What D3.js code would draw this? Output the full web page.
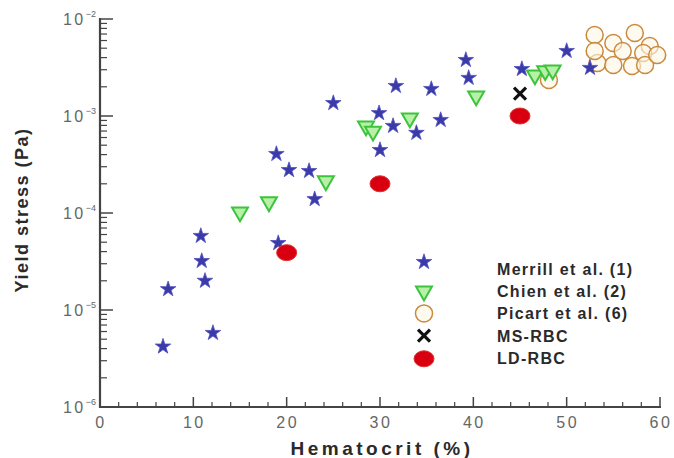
<!DOCTYPE html>
<html lang="en">
    <head>
        <meta charset="utf-8">
        <title>Yield stress vs hematocrit</title>
        <script src="https://d3js.org/d3.v7.min.js"></script>
        <style type="text/css">
            body{
                margin:0;
                background:#fff;
            }
            svg{
                display:block;
                font-family:"Liberation Sans", Arial, sans-serif;
            }
        </style>
    </head>
    <body>
        <svg width="674" height="458"></svg>
        <script type="text/javascript">

            // data
            const merrillHct   = [6.75, 7.3, 10.8, 10.9, 11.25, 12.1, 18.9, 20.25, 22.4, 23.0, 19.1, 25.0, 29.9, 31.4, 33.9, 30.0, 31.7, 35.5, 36.5, 39.5, 39.2, 45.2, 50.0, 52.5];
            const merrillYield = [4.2e-6, 1.64e-5, 5.8e-5, 3.2e-5, 2.0e-5, 5.8e-6, 4.06e-4, 2.77e-4, 2.71e-4, 1.39e-4, 4.9e-5, 1.36e-3, 1.07e-3, 7.9e-4, 6.7e-4, 4.46e-4, 2.04e-3, 1.9e-3, 9.1e-4, 2.47e-3, 3.78e-3, 3.05e-3, 4.68e-3, 3.13e-3];

            const chienHct   = [15.0, 18.1, 24.2, 28.5, 29.25, 33.2, 40.3, 46.6, 47.7, 48.5];
            const chienYield = [1.0e-4, 1.27e-4, 2.09e-4, 7.7e-4, 6.8e-4, 9.3e-4, 1.57e-3, 2.58e-3, 2.85e-3, 2.91e-3];

            const picartHct   = [48.1, 53.0, 57.3, 55.0, 58.9, 58.2, 56.0, 53.3, 55.0, 57.0, 58.4, 53.0, 59.7];
            const picartYield = [2.35e-3, 6.84e-3, 7.17e-3, 5.66e-3, 5.27e-3, 4.46e-3, 4.68e-3, 3.52e-3, 3.36e-3, 3.28e-3, 3.36e-3, 4.68e-3, 4.26e-3];

            const msHct   = [45];
            const msYield = [1.7e-3];

            const ldHct   = [20, 30, 45];
            const ldYield = [3.9e-5, 2.0e-4, 1.0e-3];

            const xTicks = [0, 10, 20, 30, 40, 50, 60];
            const yTicks = [-6, -5, -4, -3, -2];   // decade exponents

            const legendLabels = ["Merrill et al. (1)", "Chien et al. (2)", "Picart et al. (6)", "MS-RBC", "LD-RBC"];

            const zip = (xs, ys) => xs.map((x, i) => ({x: x, y: ys[i]}));

            const margin = {top: 19, right: 14, bottom: 51, left: 100};
            const width = 674, height = 458;

            const svg = d3.select("svg");

            const x = d3.scaleLinear()
                        .domain([0, 60])
                        .range([margin.left, width - margin.right]);

            const y = d3.scaleLog()
                        .domain([1e-6, 1e-2])
                        .range([height - margin.bottom, margin.top]);

            const axisColor = "#444";
            const tickFont = {size: "16px", spacing: "2.5px", color: "#666"};

            // x axis: minor ticks every 2, ticks point inward
            const xAxis = svg.append("g")
                            .attr("transform", `translate(0,${height - margin.bottom})`);

            xAxis.selectAll("line.minor")
                .data(d3.range(0, 61, 2).filter(d => d % 10 != 0))
                .join("line")
                .attr("class", "minor")
                .attr("x1", d => x(d)).attr("x2", d => x(d))
                .attr("y1", 0).attr("y2", -5)
                .style("stroke", axisColor)
                .style("stroke-width", 1.2);

            xAxis.selectAll("line.major")
                .data(xTicks)
                .join("line")
                .attr("class", "major")
                .attr("x1", d => x(d)).attr("x2", d => x(d))
                .attr("y1", 0).attr("y2", -10)
                .style("stroke", axisColor)
                .style("stroke-width", 1.5);

            xAxis.append("line")
                .attr("x1", x(0) - 1).attr("x2", x(60) + 1)
                .style("stroke", axisColor)
                .style("stroke-width", 2.2);

            xAxis.selectAll("text")
                .data(xTicks)
                .join("text")
                .attr("x", d => x(d) + 1)
                .attr("y", 21)
                .attr("text-anchor", "middle")
                .style("font-size", tickFont.size)
                .style("letter-spacing", tickFont.spacing)
                .style("fill", tickFont.color)
                .text(d => d);

            // y axis: log minor ticks
            const yAxis = svg.append("g")
                            .attr("transform", `translate(${margin.left},0)`);

            const yMinor = [];
            yTicks.slice(0, -1).forEach(e => {
                for (let m = 2; m <= 9; m++) yMinor.push(m * Math.pow(10, e));
            });

            yAxis.selectAll("line.minor")
                .data(yMinor)
                .join("line")
                .attr("class", "minor")
                .attr("y1", d => y(d)).attr("y2", d => y(d))
                .attr("x1", 0).attr("x2", 7)
                .style("stroke", axisColor)
                .style("stroke-width", 1.2);

            yAxis.selectAll("line.major")
                .data(yTicks)
                .join("line")
                .attr("class", "major")
                .attr("y1", d => y(Math.pow(10, d))).attr("y2", d => y(Math.pow(10, d)))
                .attr("x1", 0).attr("x2", 13)
                .style("stroke", axisColor)
                .style("stroke-width", 1.5);

            yAxis.append("line")
                .attr("y1", y(1e-6) + 1).attr("y2", y(1e-2) - 1)
                .style("stroke", axisColor)
                .style("stroke-width", 2.2);

            const yLabels = yAxis.selectAll("text")
                .data(yTicks)
                .join("text")
                .attr("x", -4)
                .attr("y", d => y(Math.pow(10, d)) + 6)
                .attr("text-anchor", "end")
                .style("font-size", tickFont.size)
                .style("letter-spacing", tickFont.spacing)
                .style("fill", tickFont.color);

            yLabels.append("tspan").text("10");
            yLabels.append("tspan")
                .attr("dy", -8)
                .style("font-size", "9px")
                .style("letter-spacing", "0px")
                .text(d => "\u2212" + Math.abs(d));

            // axis titles
            svg.append("text")
                .attr("x", 382)
                .attr("y", 455)
                .attr("text-anchor", "middle")
                .style("font-size", "19px")
                .style("font-weight", "bold")
                .style("letter-spacing", "3.5px")
                .style("fill", "#2a2a2a")
                .text("Hematocrit (%)");

            svg.append("text")
                .attr("transform", "translate(28,210) rotate(-90)")
                .attr("text-anchor", "middle")
                .style("font-size", "18px")
                .style("font-weight", "bold")
                .style("letter-spacing", "1.5px")
                .style("fill", "#2a2a2a")
                .text("Yield stress (Pa)");

            // marker styles
            const starPath = d3.symbol().type(d3.symbolStar).size(75)();
            const triPath = d3.symbol().type(d3.symbolTriangle).size(110)();

            function drawStar(g) {
                g.attr("d", starPath)
                    .style("fill", "#3a3aa8")
                    .style("stroke", "#5050c0")
                    .style("stroke-width", 0.8);
            }
            function drawTri(g) {
                g.attr("d", triPath)
                    .style("fill", "#b8f0a8")
                    .style("stroke", "#3cc43c")
                    .style("stroke-width", 2);
            }
            function drawCircle(g) {
                g.attr("r", 8.5)
                    .style("fill", "#fff6e6")
                    .style("fill-opacity", 0.6)
                    .style("stroke", "#c98a3c")
                    .style("stroke-width", 1.5);
            }
            function drawCross(g) {
                g.attr("d", "M-6,-6L6,6M6,-6L-6,6")
                    .style("fill", "none")
                    .style("stroke", "#111")
                    .style("stroke-width", 3.2);
            }
            function drawEllipse(g) {
                g.attr("rx", 10).attr("ry", 8)
                    .style("fill", "#d80010")
                    .style("stroke", "#e03030")
                    .style("stroke-width", 1);
            }

            // data marks
            svg.append("g").selectAll("circle")
                .data(zip(picartHct, picartYield))
                .join("circle")
                .attr("cx", d => x(d.x))
                .attr("cy", d => y(d.y))
                .call(drawCircle);

            svg.append("g").selectAll("path")
                .data(zip(chienHct, chienYield))
                .join("path")
                .attr("transform", d => `translate(${x(d.x)},${y(d.y) - 1}) rotate(180)`)
                .call(drawTri);

            svg.append("g").selectAll("path")
                .data(zip(merrillHct, merrillYield))
                .join("path")
                .attr("transform", d => `translate(${x(d.x)},${y(d.y)})`)
                .call(drawStar);

            svg.append("g").selectAll("path")
                .data(zip(msHct, msYield))
                .join("path")
                .attr("transform", d => `translate(${x(d.x)},${y(d.y)})`)
                .call(drawCross);

            svg.append("g").selectAll("ellipse")
                .data(zip(ldHct, ldYield))
                .join("ellipse")
                .attr("cx", d => x(d.x))
                .attr("cy", d => y(d.y))
                .call(drawEllipse);

            // legend
            const legX = 424, legTextX = 497, legY0 = 269, legStep = 22.2;
            const legend = svg.append("g");

            legend.append("path")
                .attr("transform", `translate(${legX},${legY0 - 7})`)
                .call(drawStar);
            legend.append("path")
                .attr("transform", `translate(${legX},${legY0 + legStep}) rotate(180)`)
                .call(drawTri);
            legend.append("circle")
                .attr("cx", legX).attr("cy", legY0 + 2 * legStep)
                .call(drawCircle);
            legend.append("path")
                .attr("transform", `translate(${legX},${legY0 + 3 * legStep})`)
                .call(drawCross);
            legend.append("ellipse")
                .attr("cx", legX).attr("cy", legY0 + 4 * legStep + 1)
                .call(drawEllipse);

            legend.selectAll("text")
                .data(legendLabels)
                .join("text")
                .attr("x", legTextX)
                .attr("y", (d, i) => legY0 + i * legStep + 6)
                .style("font-size", "16px")
                .style("font-weight", "bold")
                .style("letter-spacing", "1.3px")
                .style("fill", "#2a2a2a")
                .text(d => d);

        </script>
    </body>
</html>
